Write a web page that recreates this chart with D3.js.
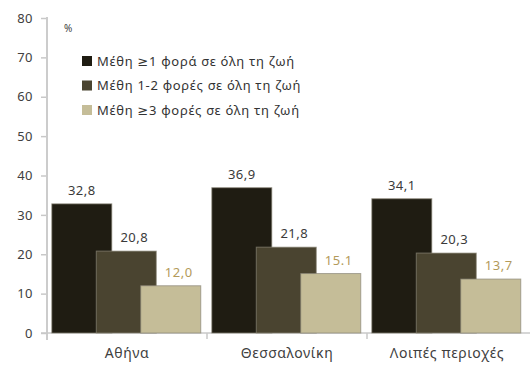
<!DOCTYPE html>
<html>
<head>
<meta charset="utf-8">
<script src="https://cdn.jsdelivr.net/npm/d3@7/dist/d3.min.js"></script>
<style>
  body { margin: 0; background: #fff; }
  svg { display: block; font-family: "Noto Sans", "DejaVu Sans", sans-serif; }
</style>
</head>
<body>
<svg id="chart" width="530" height="365"></svg>
<script>
// Drunkenness prevalence by region (%)
const categories = ["Αθήνα", "Θεσσαλονίκη", "Λοιπές περιοχές"];
const seriesNames = [
  "Μέθη ≥1 φορά σε όλη τη ζωή",
  "Μέθη 1-2 φορές σε όλη τη ζωή",
  "Μέθη ≥3 φορές σε όλη τη ζωή"
];
const onceOrMore = [32.8, 36.9, 34.1];
const oneToTwo = [20.8, 21.8, 20.3];
const threeOrMore = [12.0, 15.1, 13.7];
const valueLabels = [
  ["32,8", "36,9", "34,1"],
  ["20,8", "21,8", "20,3"],
  ["12,0", "15.1", "13,7"]
];
const yTicks = [0, 10, 20, 30, 40, 50, 60, 70, 80];

const series = [onceOrMore, oneToTwo, threeOrMore];
const colors = ["#1f1c12", "#4a4430", "#c5bd98"];
const labelColors = ["#3a3a3a", "#3a3a3a", "#b39a5a"];

const svg = d3.select("#chart");

const x = d3.scaleBand().domain(categories).range([47, 527]).paddingInner(0).paddingOuter(0);
const y = d3.scaleLinear().domain([0, 80]).range([333, 18]);

const bw = x.bandwidth();
const barW = bw * 0.375;
const step = bw * 0.278;
const pad = bw * 0.03;

// y axis
const yAxis = d3.axisLeft(y).tickValues(yTicks).tickSize(6).tickPadding(8).tickFormat(d3.format("d"));
const gy = svg.append("g").attr("transform", "translate(47,0)").call(yAxis);
gy.select(".domain").remove();
gy.selectAll(".tick line").attr("stroke", "#c8c8c8").attr("stroke-width", 1.5);
gy.selectAll(".tick text").attr("fill", "#404040").attr("font-size", 13)
  .attr("font-family", "'Noto Sans', sans-serif").attr("letter-spacing", 0.5);
svg.append("line").attr("x1", 47).attr("x2", 47).attr("y1", 17).attr("y2", 340)
  .attr("stroke", "#cccccc").attr("stroke-width", 2);

// x axis baseline with ticks between categories
svg.append("line").attr("x1", 41).attr("x2", 530).attr("y1", y(0)).attr("y2", y(0))
  .attr("stroke", "#c8c8c8").attr("stroke-width", 1.5);
categories.slice(1).forEach(c => {
  svg.append("line").attr("x1", x(c)).attr("x2", x(c)).attr("y1", y(0)).attr("y2", y(0) + 6)
    .attr("stroke", "#c8c8c8").attr("stroke-width", 1.5);
});

// bars (later series overlap the earlier ones)
series.forEach((vals, si) => {
  svg.append("g").selectAll("rect").data(vals).join("rect")
    .attr("x", (d, i) => x(categories[i]) + pad + si * step)
    .attr("y", d => y(d))
    .attr("width", barW)
    .attr("height", d => y(0) - y(d))
    .attr("fill", colors[si])
    .attr("stroke", "#8a8678")
    .attr("stroke-width", 1)
    .attr("stroke-opacity", 0.7);
});

// value labels
series.forEach((vals, si) => {
  svg.append("g").selectAll("text").data(vals).join("text")
    .attr("x", (d, i) => x(categories[i]) + pad + si * step + barW / 2 + (si > 0 ? 8 : 0))
    .attr("y", d => y(d) - 9)
    .attr("text-anchor", "middle")
    .attr("font-size", 13)
    .attr("letter-spacing", 0.5)
    .attr("fill", labelColors[si])
    .text((d, i) => valueLabels[si][i]);
});

// category labels
svg.append("g").selectAll("text").data(categories).join("text")
  .attr("x", d => x(d) + bw / 2)
  .attr("y", 358)
  .attr("text-anchor", "middle")
  .attr("font-size", 14)
  .attr("letter-spacing", 0.6)
  .attr("fill", "#404040")
  .text(d => d);

// unit
svg.append("text").attr("x", 64).attr("y", 32).attr("font-size", 10).attr("fill", "#404040").text("%");

// legend
const legend = svg.append("g");
seriesNames.forEach((name, i) => {
  const cy = 61 + i * 24.5;
  legend.append("rect").attr("x", 82).attr("y", cy - 5).attr("width", 10).attr("height", 10)
    .attr("fill", colors[i]);
  legend.append("text").attr("x", 97).attr("y", cy + 4.5).attr("font-size", 13)
    .attr("letter-spacing", 0.7)
    .attr("fill", "#333").text(name);
});
</script>
</body>
</html>
